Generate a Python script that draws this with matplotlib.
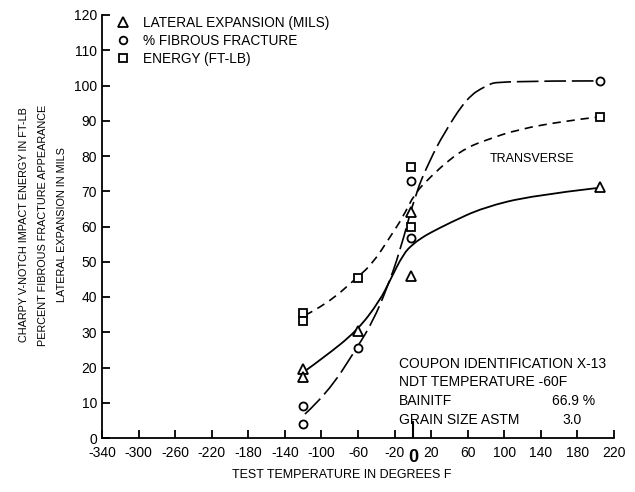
import matplotlib
matplotlib.use("Agg")
import matplotlib.pyplot as plt
from matplotlib.path import Path
from matplotlib.patches import PathPatch
from matplotlib.ticker import FixedLocator
import matplotlib.transforms as mtransforms

plt.rcParams['font.family'] = ['Liberation Sans', 'DejaVu Sans']
plt.rcParams['axes.unicode_minus'] = False

# ---- measured points ----
energy_x = [-120, -120, -60, -2, -2, 205]
energy_y = [35.5, 33.3, 45.5, 76.8, 60.0, 91.0]
fibrous_x = [-120, -120, -60, -2, -2, 205]
fibrous_y = [9.1, 4.1, 25.6, 73.0, 56.8, 101.3]
lateral_x = [-120, -120, -60, -2, -2, 205]
lateral_y = [19.6, 17.2, 30.4, 64.0, 46.0, 71.2]

# ---- hand-drawn fit curves ----
energy_curve_x = [-118, -94, -61, -44, -25, -11, 2, 19, 40, 60, 80, 114, 168, 201]
energy_curve_y = [34.8, 38.0, 45.5, 49.5, 57.0, 62.6, 69.4, 74.0, 79.0, 82.5, 84.5, 87.5, 90.0, 91.0]
fibrous_curve_x = [-118, -94, -61, -44, -29, -14, 3, 19, 33, 59, 80, 95, 201]
fibrous_curve_y = [6.8, 12.5, 25.6, 33.0, 42.0, 53.0, 69.5, 79.0, 86.0, 96.5, 100.0, 101.3, 101.3]
lateral_curve_x = [-118, -98, -61, -36, -25, -10.5, 0, 11, 19, 40, 77, 131, 201]
lateral_curve_y = [19.0, 22.7, 30.4, 39.0, 44.7, 52.2, 55.0, 57.0, 58.2, 61.0, 65.4, 68.8, 70.9]

xticks = [-340, -300, -260, -220, -180, -140, -100, -60, -20, 20, 60, 100, 140, 180, 220]
yticks = [0, 10, 20, 30, 40, 50, 60, 70, 80, 90, 100, 110, 120]

legend_labels = ["LATERAL EXPANSION (MILS)", "% FIBROUS FRACTURE", "ENERGY (FT-LB)"]
ylabel_lines = ["CHARPY V-NOTCH IMPACT ENERGY IN FT-LB",
                "PERCENT FIBROUS FRACTURE APPEARANCE",
                "LATERAL EXPANSION IN MILS"]
info_lines = ["COUPON IDENTIFICATION X-13", "NDT TEMPERATURE -60F", "BAINITF", "GRAIN SIZE ASTM"]
info_values = ["", "", "66.9 %", "3.0"]

fig = plt.figure(figsize=(6.35, 4.92), dpi=100)
ax = fig.add_axes([102/635, 1 - 438/492, (614-102)/635, (438-15)/492])
ax.set_xlim(-340, 220)
ax.set_ylim(0, 120)
for s in ['top', 'right']:
    ax.spines[s].set_visible(False)
for s in ['left', 'bottom']:
    ax.spines[s].set_linewidth(1.3)


def smooth_path(xs, ys):
    pts = list(zip(xs, ys))
    verts = [pts[0]]
    codes = [Path.MOVETO]
    for i in range(1, len(pts) - 1):
        mid = ((pts[i][0] + pts[i+1][0]) / 2, (pts[i][1] + pts[i+1][1]) / 2)
        if i == len(pts) - 2:
            mid = pts[i+1]
        verts += [pts[i], mid]
        codes += [Path.CURVE3, Path.CURVE3]
    return Path(verts, codes)


ax.add_patch(PathPatch(smooth_path(energy_curve_x, energy_curve_y), fill=False,
                       lw=1.2, ls=(0, (5, 3.5)), ec='black'))
ax.add_patch(PathPatch(smooth_path(fibrous_curve_x, fibrous_curve_y), fill=False,
                       lw=1.2, ls=(0, (13, 3.5)), ec='black'))
ax.add_patch(PathPatch(smooth_path(lateral_curve_x, lateral_curve_y), fill=False,
                       lw=1.3, ls='-', ec='black'))

mk = dict(ls='none', mfc='white', mec='black', mew=1.3, clip_on=False, zorder=5)
ax.plot(lateral_x, lateral_y, marker='^', ms=7.5, **mk)
ax.plot(fibrous_x, fibrous_y, marker='o', ms=5.8, **mk)
ax.plot(energy_x, energy_y, marker='s', ms=5.6, **mk)

# ticks
ax.set_xticks(xticks)
ax.set_xticklabels([str(t) for t in xticks])
ax.set_yticks(yticks)
ax.xaxis.set_minor_locator(FixedLocator([0]))
ax.tick_params(axis='both', which='major', direction='in', length=6, width=1.3,
               labelsize=10, color='black')
ax.tick_params(axis='x', which='major', pad=5.5)
ax.tick_params(axis='y', which='major', pad=3.5)
ax.tick_params(axis='x', which='minor', direction='in', length=12, width=1.5)
trans = mtransforms.blended_transform_factory(ax.transData, ax.transAxes)
ax.text(0, -(462 - 438) / 423, "0", transform=trans, ha='center', va='baseline',
        fontsize=13, fontweight='bold')

# axis labels
fig.text(342/635, 1 - 478/492, "TEST TEMPERATURE IN DEGREES F", ha='center', va='baseline',
         fontsize=9)
for xpx, line in zip([24, 43, 62], ylabel_lines):
    fig.text(xpx/635, 1 - 225/492, line, rotation=90, ha='center', va='center', fontsize=7.8)

# legend
leg_markers = ['^', 'o', 's']
leg_ms = [7, 5.5, 5.2]
leg_y = [116.6, 111.4, 106.3]
for m, ms, yy, lab in zip(leg_markers, leg_ms, leg_y, legend_labels):
    ax.plot([-317], [yy + 1.5], marker=m, ls='none', mfc='white', mec='black', mew=1.3,
            ms=ms, clip_on=False)
    ax.text(-295, yy, lab, ha='left', va='baseline', fontsize=9.8)

ax.text(84.4, 78.2, "TRANSVERSE", ha='left', va='baseline', fontsize=9)

info_y = [19.9, 14.8, 9.4, 4.0]
for yy, lab in zip(info_y, info_lines):
    ax.text(-15, yy, lab, ha='left', va='baseline', fontsize=10)
for yy, val, xv in zip(info_y, info_values, [0, 0, 199, 174.6]):
    if val:
        ax.text(xv, yy, val, ha='right' if xv == 199 else 'center', va='baseline',
                fontsize=10)

fig.savefig("out.png", dpi=100, facecolor='white')
